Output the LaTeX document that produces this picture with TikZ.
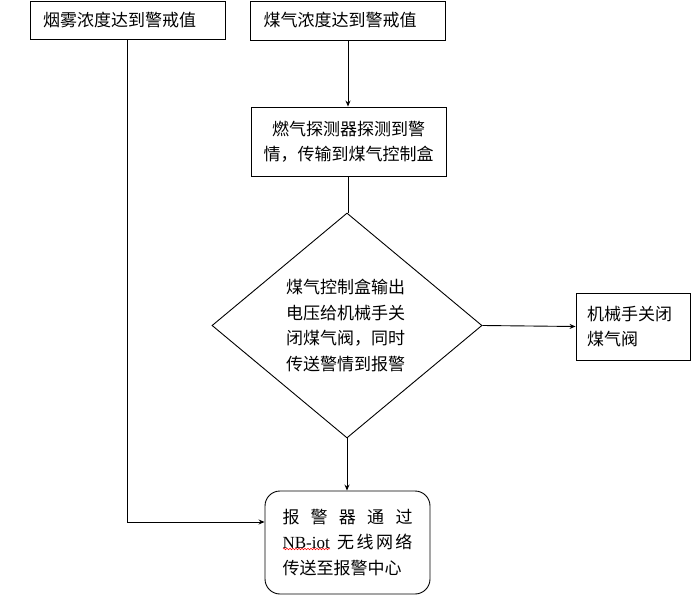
\documentclass[tikz,border=0pt]{standalone}
\usepackage{fontspec}
\setmainfont{Liberation Serif}
\newfontfamily\cjk{Noto Sans CJK SC}
\usetikzlibrary{shapes.geometric,arrows.meta,decorations.pathmorphing}
\begin{document}
\begin{tikzpicture}[x=1pt,y=-1pt,
  every node/.style={font=\cjk\fontsize{17}{25.5}\selectfont, text=black},
  boxl/.style={draw, line width=0.9pt, rectangle, inner ysep=0pt, align=left},
  boxc/.style={draw, line width=0.9pt, rectangle, inner ysep=0pt, align=center},
  dia/.style={draw, line width=0.9pt, diamond, inner sep=0pt, aspect=1.2, align=left},
  rbox/.style={draw, line width=0.9pt, rectangle, rounded corners=15pt, inner ysep=0pt, align=left},
  conn/.style={line width=0.9pt},
  arr/.style={line width=0.9pt, -{Stealth[length=6pt,width=5pt,inset=2pt]}}]
\useasboundingbox (0,0) rectangle (691,596);
\node[boxl, minimum width=195, minimum height=38, inner xsep=13pt, text width=169pt] (b1) at (127.5,20) {烟雾浓度达到警戒值};
\node[boxl, minimum width=195, minimum height=39, inner xsep=13pt, text width=169pt] (b2) at (348,20.5) {煤气浓度达到警戒值};
\node[boxc, minimum width=195, minimum height=69, inner xsep=0pt, text width=195pt] (b3) at (348.5,141.5) {燃气探测器探测到警\\情，传输到煤气控制盒};
\node[dia, minimum width=270, minimum height=225, text width=122pt] (d) at (347,325.5) {煤气控制盒输出\\电压给机械手关\\闭煤气阀，同时\\传送警情到报警};
\node[boxl, minimum width=114, minimum height=67, inner xsep=11pt, text width=92pt] (b4) at (633,326.5) {机械手关闭\\煤气阀};
\node[rbox, minimum width=165, minimum height=103, inner xsep=17.5pt, text width=130pt] (rb) at (347.5,542.5) {\makebox[130pt][s]{报\hfill 警\hfill 器\hfill 通\hfill 过}\\\makebox[130pt][s]{\rmfamily NB-iot\hspace{0pt plus 3fill}\cjk 无\hfill 线\hfill 网\hfill 络}\\传送至报警中心};
\coordinate (c1) at (rb.west |- 0,522);
\draw[red, line width=0.5pt, decorate, decoration={snake, amplitude=0.8pt, segment length=3pt}] (283,549) -- (330,549);
\draw[arr] (b2.south) -- (b2.south |- b3.north);
\draw[conn] (b3.south) -- (b3.south |- d.north);
\draw[arr] (d.east) -- (b4.west);
\draw[arr] (d.south) -- (d.south |- rb.north);
\draw[arr] (b1.south) |- (c1);
\end{tikzpicture}
\end{document}
